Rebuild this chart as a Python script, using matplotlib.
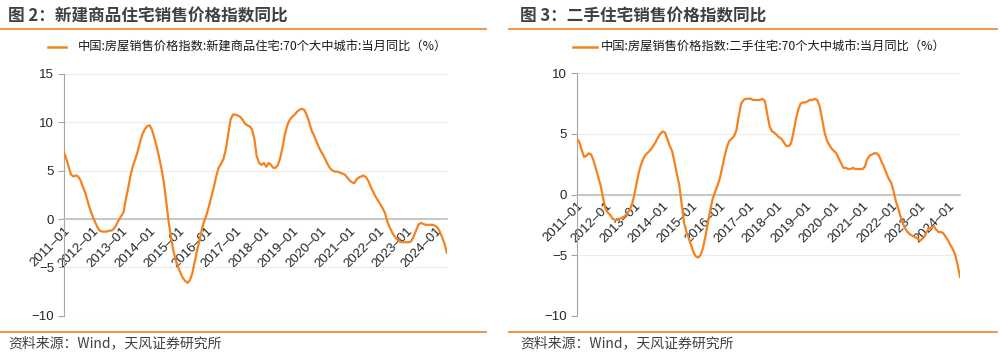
import matplotlib
matplotlib.use("Agg")
import matplotlib.pyplot as plt
import matplotlib.dates as mdates
import pandas as pd
from matplotlib.lines import Line2D

plt.rcParams['font.family'] = ['Liberation Sans', 'Noto Sans CJK SC', 'DejaVu Sans']

months = pd.date_range("2011-01-01", "2024-06-01", freq="MS")

new_home = [
    # 2011
    6.9, 6.2, 5.4, 4.6, 4.4, 4.5, 4.4, 4.0, 3.3, 2.7, 1.8, 1.0,
    # 2012
    0.3, -0.3, -0.8, -1.2, -1.3, -1.3, -1.3, -1.2, -1.2, -1.0, -0.6, -0.1,
    # 2013
    0.3, 0.7, 2.0, 3.2, 4.5, 5.5, 6.2, 7.0, 8.0, 8.8, 9.3, 9.6,
    # 2014
    9.7, 9.2, 8.4, 7.5, 6.4, 5.2, 3.8, 1.8, -0.3, -1.9, -3.3, -4.3,
    # 2015
    -5.0, -5.6, -6.1, -6.4, -6.6, -6.3, -5.6, -4.4, -3.2, -2.2, -1.0, -0.2,
    # 2016
    0.5, 1.4, 2.3, 3.3, 4.4, 5.3, 5.7, 6.2, 7.2, 8.7, 10.3, 10.8,
    # 2017
    10.8, 10.7, 10.6, 10.3, 9.9, 9.7, 9.6, 9.3, 8.3, 6.5, 5.8, 5.6,
    # 2018
    5.8, 5.4, 5.8, 5.6, 5.3, 5.3, 5.6, 6.4, 7.6, 8.9, 9.8, 10.3,
    # 2019
    10.6, 10.8, 11.1, 11.3, 11.4, 11.3, 10.8, 10.1, 9.2, 8.7, 8.1, 7.5,
    # 2020
    7.0, 6.6, 6.1, 5.6, 5.2, 5.0, 4.9, 4.9, 4.8, 4.7, 4.6, 4.3,
    # 2021
    4.0, 3.8, 3.7, 4.1, 4.3, 4.4, 4.5, 4.3, 3.9, 3.3, 2.8, 2.3,
    # 2022
    1.9, 1.5, 1.1, 0.6, -0.3, -0.9, -1.4, -1.8, -2.1, -2.3, -2.4, -2.4,
    # 2023
    -2.4, -2.4, -2.3, -1.8, -1.2, -0.6, -0.4, -0.5, -0.6, -0.6, -0.6, -0.6,
    # 2024
    -0.7, -0.9, -1.3, -1.9, -2.6, -3.5,
]

second_hand = [
    # 2011
    4.6, 4.3, 3.7, 3.1, 3.2, 3.4, 3.3, 2.8, 2.1, 1.4, 0.7, -0.3,
    # 2012
    -1.2, -1.5, -1.7, -2.0, -2.1, -2.1, -2.0, -1.9, -1.8, -1.6, -1.3, -0.9,
    # 2013
    -0.1, 0.9, 1.8, 2.5, 3.0, 3.3, 3.5, 3.7, 4.0, 4.3, 4.7, 5.0,
    # 2014
    5.2, 5.1, 4.6, 4.0, 3.6, 2.7, 1.7, 0.8, -0.8, -2.3, -3.1, -3.6,
    # 2015
    -4.2, -4.8, -5.1, -5.2, -5.0, -4.4, -3.5, -2.4, -1.3, -0.4, 0.2, 0.7,
    # 2016
    1.3, 2.2, 3.1, 3.9, 4.4, 4.6, 4.8, 5.3, 6.5, 7.5, 7.8, 7.9,
    # 2017
    7.9, 7.9, 7.8, 7.8, 7.8, 7.8, 7.9, 7.7, 6.6, 5.6, 5.2, 5.1,
    # 2018
    4.9, 4.7, 4.6, 4.3, 4.0, 4.0, 4.2, 5.1, 6.2, 7.0, 7.5, 7.6,
    # 2019
    7.6, 7.7, 7.8, 7.8, 7.9, 7.8, 7.3, 6.3, 5.2, 4.5, 4.1, 3.8,
    # 2020
    3.6, 3.4, 3.0, 2.6, 2.2, 2.2, 2.1, 2.1, 2.2, 2.1, 2.1, 2.1,
    # 2021
    2.1, 2.3, 2.9, 3.2, 3.3, 3.4, 3.4, 3.2, 2.7, 2.3, 1.8, 1.3,
    # 2022
    1.0, 0.3, -0.5, -1.1, -1.8, -2.4, -2.8, -3.1, -3.3, -3.4, -3.5, -3.6,
    # 2023
    -3.8, -3.7, -3.5, -3.1, -2.8, -2.7, -2.6, -2.9, -3.1, -3.1, -3.2, -3.5,
    # 2024
    -3.8, -4.2, -4.5, -5.0, -5.8, -6.8,
]

titles = ["图 2：新建商品住宅销售价格指数同比", "图 3：二手住宅销售价格指数同比"]
legend_labels = ["中国:房屋销售价格指数:新建商品住宅:70个大中城市:当月同比（%）",
                 "中国:房屋销售价格指数:二手住宅:70个大中城市:当月同比（%）"]
source_text = "资料来源：Wind，天风证券研究所"
y_ranges = [(-10, 15, [-10, -5, 0, 5, 10, 15]), (-10, 10, [-10, -5, 0, 5, 10])]
tick_years = list(range(2011, 2025))

ORANGE = '#F5821F'
GRAY_TEXT = '#404040'
CJK = ['Noto Sans CJK SC', 'DejaVu Sans']

W, H = 1000, 353
fig = plt.figure(figsize=(W / 100, H / 100), dpi=100)

def fx(px):
    return px / W

def fy(py):
    return 1 - py / H

panels = [
    dict(x0=0, x1=486, title_x=8, ax_left=64, ax_right=447, ax_top=74, leg_line=(48, 66), leg_text=78),
    dict(x0=509, x1=997, title_x=520, ax_left=577, ax_right=960, ax_top=73.3, leg_line=(573, 597), leg_text=601),
]
series = [new_home, second_hand]

for i, p in enumerate(panels):
    # title
    fig.text(fx(p['title_x']), fy(16), titles[i], family=CJK, fontsize=12, fontweight='bold',
             color=GRAY_TEXT, va='center', ha='left')
    # rules
    fig.add_artist(Line2D([fx(p['x0']), fx(p['x1'])], [fy(29.3), fy(29.3)], color=ORANGE, lw=1.2))
    fig.add_artist(Line2D([fx(p['x0']), fx(p['x1'])], [fy(332), fy(332)], color=ORANGE, lw=1.2))
    # footer
    fig.text(fx(p['title_x']), fy(343), source_text, family=CJK, fontsize=10,
             color=GRAY_TEXT, va='center', ha='left')
    # legend
    fig.add_artist(Line2D([fx(p['leg_line'][0]), fx(p['leg_line'][1])], [fy(47), fy(47)], color=ORANGE, lw=1.8))
    fig.text(fx(p['leg_text']), fy(47), legend_labels[i], family=CJK, fontsize=8.8,
             color='#1a1a1a', va='center', ha='left')

    ymin, ymax, yt = y_ranges[i]
    bottom_px = 315.7
    ax = fig.add_axes([fx(p['ax_left']), fy(bottom_px), fx(p['ax_right'] - p['ax_left']),
                       (bottom_px - p['ax_top']) / H])
    ax.plot(months, series[i], color=ORANGE, lw=1.6, zorder=3)
    ax.set_xlim(months[0], months[-1])
    ax.set_ylim(ymin, ymax)
    ax.set_yticks(yt)
    ax.set_yticklabels([f"{v}".replace('-', '\u2212') for v in yt])
    ax.grid(axis='y', color='#ececec', lw=0.8)
    ax.set_axisbelow(True)
    for s in ['top', 'right']:
        ax.spines[s].set_visible(False)
    ax.spines['left'].set_color('#a6a6a6')
    ax.spines['left'].set_linewidth(0.8)
    ax.spines['bottom'].set_position(('data', 0))
    ax.spines['bottom'].set_color('#bfbfbf')
    ax.spines['bottom'].set_linewidth(1.2)
    xt = [pd.Timestamp(f"{y}-01-01") for y in tick_years]
    ax.set_xticks(xt)
    ax.set_xticklabels([f"{y}\u201301" for y in tick_years], rotation=45, ha='right', va='top',
                       rotation_mode='anchor', fontsize=9.5, color='#262626')
    ax.tick_params(axis='x', length=0, pad=4)
    ax.tick_params(axis='y', length=4, color='#a6a6a6', width=0.8, labelsize=9.5,
                   labelcolor='#262626', pad=3)

fig.savefig("out.png", dpi=100)
